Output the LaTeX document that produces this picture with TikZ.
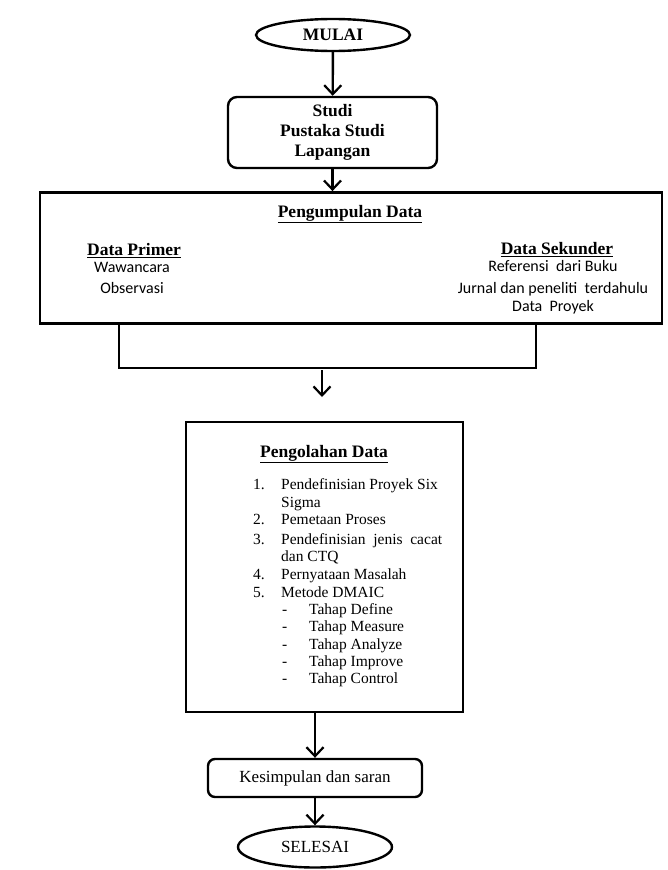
\documentclass[tikz,border=0pt]{standalone}
\usepackage{fontspec}
\setmainfont{Liberation Serif}
\newfontfamily\calib{Carlito}
\usetikzlibrary{arrows.meta,shapes.geometric}
\begin{document}
\begin{tikzpicture}[x=1pt,y=-1pt,
  line width=2.4pt,
  arr/.style={-{Straight Barb[length=9pt,width=17pt,line width=2.2pt]}},
  term/.style={draw,ellipse,inner sep=0pt,font=\fontsize{17}{20}\selectfont},
  rbox/.style={draw,rounded corners=9pt,inner sep=0pt,align=center},
  sbox/.style={draw,inner sep=0pt},
  head/.style={inner sep=0pt,anchor=mid,font=\fontsize{17.5}{20}\selectfont\bfseries},
  sans/.style={inner sep=0pt,anchor=mid,font=\fontsize{16}{19}\selectfont\calib},
  item/.style={inner sep=0pt,anchor=mid west,font=\fontsize{15.5}{18}\selectfont}
]
\useasboundingbox (0,0) rectangle (667,870);

% start
\node[term,font=\fontsize{17.5}{20}\selectfont\bfseries,minimum width=154pt,minimum height=32pt] (mulai) at (333,35) {MULAI};

% studi
\node[rbox,minimum width=209pt,minimum height=71pt,font=\fontsize{17.5}{20}\selectfont\bfseries] (studi) at (332.5,132.5) {Studi\\Pustaka Studi\\Lapangan};

% pengumpulan data
\node[sbox,minimum width=622pt,minimum height=131pt,line width=2.8pt] (pk) at (351,258) {};
\node[head] (pkt) at (350,215) {\underline{Pengumpulan Data}};
\node[head] (dp) at (134,253) {\underline{Data Primer}};
\node[sans] (w1) at (132,270) {Wawancara};
\node[sans] (w2) at (132,291) {Observasi};
\node[head] (ds) at (557,252) {\underline{Data Sekunder}};
\node[sans] (s1) at (553,269) {Referensi\ \ dari Buku};
\node[sans] (s2) at (553,291) {Jurnal dan peneliti\ \ terdahulu};
\node[sans] (s3) at (553,309) {Data\ \ Proyek};

% join lines
\coordinate (jl) at (119,368);
\coordinate (jr) at (536,368);
\coordinate (jm) at (322,370);
\coordinate (ae) at (322,397);
\draw (pk.south -| jl) -- (jl) -- (jr) -- (pk.south -| jr);

% pengolahan data
\node[sbox,minimum width=277pt,minimum height=290pt] (po) at (324.5,567) {};
\node[head] (pot) at (324,455) {\underline{Pengolahan Data}};
\node[item] (n1) at (252,487) {1.};
\node[item] (t1) at (280,487) {Pendefinisian Proyek Six};
\node[item] (t1b) at (280,505) {Sigma};
\node[item] (n2) at (252,522) {2.};
\node[item] (t2) at (280,522) {Pemetaan Proses};
\node[item] (n3) at (252,542) {3.};
\node[item] (t3) at (280,542) {Pendefinisian\ \ jenis\ \ cacat};
\node[item] (t3b) at (280,559) {dan CTQ};
\node[item] (n4) at (252,577) {4.};
\node[item] (t4) at (280,577) {Pernyataan Masalah};
\node[item] (n5) at (252,595) {5.};
\node[item] (t5) at (280,595) {Metode DMAIC};
\node[item] (d1) at (281,612) {-};
\node[item] (e1) at (308,612) {Tahap Define};
\node[item] (d2) at (281,629) {-};
\node[item] (e2) at (308,629) {Tahap Measure};
\node[item] (d3) at (281,647) {-};
\node[item] (e3) at (308,647) {Tahap Analyze};
\node[item] (d4) at (281,664) {-};
\node[item] (e4) at (308,664) {Tahap Improve};
\node[item] (d5) at (281,681) {-};
\node[item] (e5) at (308,681) {Tahap Control};

% kesimpulan
\node[rbox,rounded corners=7pt,minimum width=214pt,minimum height=38pt,font=\fontsize{17}{20}\selectfont] (kes) at (315,778) {Kesimpulan dan saran};

% end
\node[term,minimum width=154pt,minimum height=41pt] (sel) at (315,847) {SELESAI};

% arrows
\draw[arr] (mulai) -- (studi);
\draw[arr] (studi.south) -- (studi.south |- pk.north);
\draw[arr] (jm) -- (ae);
\draw[arr] (po.south -| kes) -- (kes.north);
\draw[arr] (kes) -- (sel);
\end{tikzpicture}
\end{document}
